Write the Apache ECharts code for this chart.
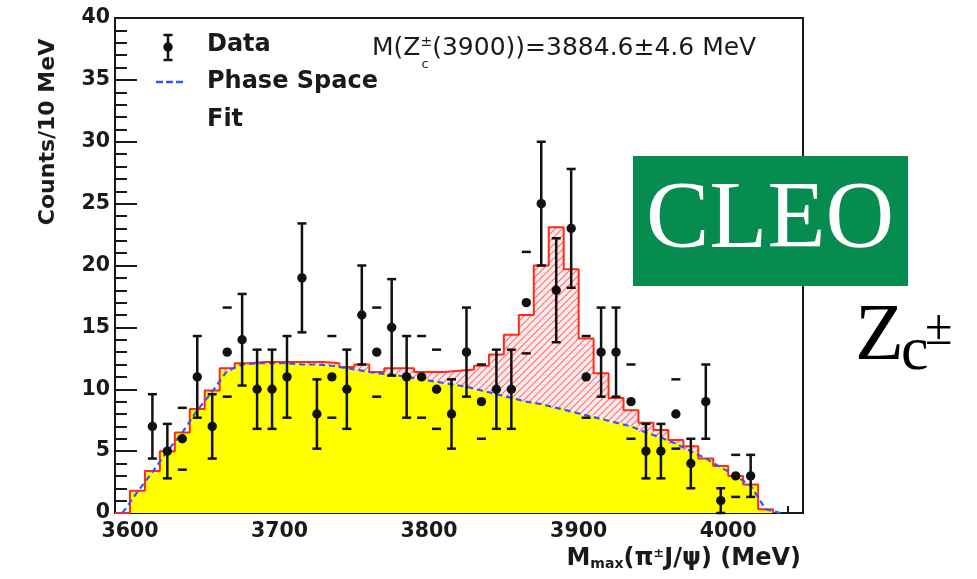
<!DOCTYPE html>
<html><head><meta charset="utf-8">
<script src="https://cdn.jsdelivr.net/npm/echarts@6/dist/echarts.min.js"></script>
<style>html,body{margin:0;padding:0;background:#fff}#c{width:977px;height:579px}</style>
</head><body><div id="c"></div>
<script>
// histogram bins: lower edges (10 MeV wide)
const binLow = [3590,3600,3610,3620,3630,3640,3650,3660,3670,3680,3690,3700,3710,3720,3730,3740,3750,3760,3770,3780,3790,3800,3810,3820,3830,3840,3850,3860,3870,3880,3890,3900,3910,3920,3930,3940,3950,3960,3970,3980,3990,4000,4010,4020,4030];
const phaseSpace = [0,1.7,3.3,5.0,6.5,8.3,9.8,11.5,12.0,12.1,12.1,12.1,12.0,12.0,11.9,11.7,11.5,11.3,11.2,11.0,10.8,10.6,10.4,10.2,9.9,9.6,9.3,9.0,8.8,8.5,8.2,7.9,7.6,7.3,7.0,6.5,6.1,5.6,5.0,4.4,3.7,3.0,2.2,0.3,0];
const fitTotal = [0,1.8,3.4,5.0,6.5,8.4,9.9,11.7,12.1,12.2,12.2,12.2,12.2,12.2,12.1,11.8,12.0,11.4,11.7,11.7,11.4,11.4,11.5,11.6,11.9,12.8,14.4,16.0,20.0,23.1,19.7,14.1,11.3,9.3,8.3,7.3,6.7,5.9,5.4,4.4,3.8,3.0,2.3,0.3,0];
// data points
const dataMass = [3615,3625,3635,3645,3655,3665,3675,3685,3695,3705,3715,3725,3735,3745,3755,3765,3775,3785,3795,3805,3815,3825,3835,3845,3855,3865,3875,3885,3895,3905,3915,3925,3935,3945,3955,3965,3975,3985,3995,4005,4015];
const dataCounts = [7,5,6,11,7,13,14,10,10,11,19,8,11,10,16,13,15,11,11,10,8,13,9,10,10,17,25,18,23,11,13,13,9,5,5,8,4,9,1,3,3];
const dataErr = [2.6,2.2,2.5,3.3,2.6,3.6,3.7,3.2,3.2,3.3,4.4,2.8,3.3,3.2,4.0,3.6,3.9,3.3,3.3,3.2,2.8,3.6,3.0,3.2,3.2,4.1,5.0,4.2,4.8,3.3,3.6,3.6,3.0,2.2,2.2,2.8,2.0,3.0,1.0,1.7,1.7];
const stemHidden = [0,0,1,0,0,1,0,0,0,0,0,0,1,0,0,1,0,0,1,1,0,0,1,0,0,1,0,0,0,1,0,0,1,0,0,1,0,0,0,1,0];
// axis ticks
const xTickLabels = [3600,3700,3800,3900,4000];
const xMinorTicks = [3600,3620,3640,3660,3680,3700,3720,3740,3760,3780,3800,3820,3840,3860,3880,3900,3920,3940,3960,3980,4000,4020,4040];
const yMin = 0, yMax = 40, yStep = 5;

const FONT = '"DejaVu Sans", sans-serif';
const SERIF = '"Liberation Serif", "DejaVu Serif", serif';

function hatchPattern(){
  const c = document.createElement('canvas');
  c.width = 7; c.height = 7;
  const g = c.getContext('2d');
  g.fillStyle = 'rgba(255,225,225,0.6)';
  g.fillRect(0,0,7,7);
  g.strokeStyle = 'rgba(255,60,60,0.7)';
  g.lineWidth = 1.2;
  g.beginPath();
  g.moveTo(-1,8); g.lineTo(8,-1);
  g.moveTo(-3,3); g.lineTo(3,-3);
  g.moveTo(4,10); g.lineTo(10,4);
  g.stroke();
  return c;
}
function measure(text, font){
  const g = document.createElement('canvas').getContext('2d');
  g.font = font; return g.measureText(text).width;
}

const histPts = (vals) => binLow.map((x,i)=>[x, vals[i]]);
const centerPts = (vals) => binLow.map((x,i)=>[x+5, vals[i]]);
const pts = dataMass.map((m,i)=>[m, dataCounts[i], dataErr[i], stemHidden[i]]);

const chart = echarts.init(document.getElementById('c'), null, {renderer:'canvas'});

const annX = 372, annY = 48;
const annFont = '25px ' + FONT;
const mzW = measure('M(Z', annFont);

const option = {
  backgroundColor: '#fff',
  animation: false,
  grid: {left:115, right:174, top:18, bottom:66, show:true, borderColor:'#1a1a1a', borderWidth:2, backgroundColor:'transparent'},
  xAxis: [{
    type:'value', min:3590, max:4050,
    axisLine:{show:true, lineStyle:{color:'#1a1a1a', width:2}},
    axisTick:{show:true, inside:true, length:15, customValues:xTickLabels, lineStyle:{color:'#1a1a1a', width:2}},
    axisLabel:{show:true, customValues:xTickLabels, formatter:(v)=>String(v), margin:8, color:'#1a1a1a', fontFamily:FONT, fontWeight:'bold', fontSize:20.5},
    splitLine:{show:false},
    name:'M{sub|max}(π{sup|±}J/ψ) (MeV)', nameLocation:'end', nameGap:-2,
    nameTextStyle:{align:'right', verticalAlign:'top', padding:[34,0,0,0], color:'#1a1a1a', fontFamily:FONT, fontWeight:'bold', fontSize:24,
      rich:{sub:{fontSize:14, fontFamily:FONT, fontWeight:'bold', verticalAlign:'bottom', lineHeight:2, color:'#1a1a1a'},
            sup:{fontSize:13, fontFamily:FONT, verticalAlign:'top', lineHeight:8, color:'#1a1a1a'}}}
  },{
    type:'value', min:3590, max:4050, position:'bottom',
    axisLine:{show:false},
    axisTick:{show:true, inside:true, length:7, customValues:xMinorTicks, lineStyle:{color:'#1a1a1a', width:2}},
    axisLabel:{show:false}, splitLine:{show:false}
  }],
  yAxis: {
    type:'value', min:yMin, max:yMax, interval:yStep,
    axisLine:{show:true, lineStyle:{color:'#1a1a1a', width:2}},
    axisTick:{show:true, inside:true, length:22, lineStyle:{color:'#1a1a1a', width:2}},
    minorTick:{show:true, splitNumber:5, length:12, lineStyle:{color:'#1a1a1a', width:2}},
    axisLabel:{margin:5, color:'#1a1a1a', fontFamily:FONT, fontWeight:'bold', fontSize:20.5},
    splitLine:{show:false}
  },
  series: [
    {name:'Fit (signal)', type:'line', step:'end', data:histPts(fitTotal), symbol:'none', z:1,
     lineStyle:{width:0}, areaStyle:{color:{image:hatchPattern(), repeat:'repeat'}, opacity:1}},
    {name:'Phase Space hist', type:'line', step:'end', data:histPts(phaseSpace), symbol:'none', z:2,
     lineStyle:{width:0}, areaStyle:{color:'#ffff00', opacity:1}},
    {name:'Fit', type:'line', step:'end', data:histPts(fitTotal), symbol:'none', z:3,
     lineStyle:{color:'#ff2a1a', width:2}},
    {name:'Phase Space', type:'line', data:centerPts(phaseSpace), symbol:'none', z:4,
     lineStyle:{color:'#3355ff', width:2.2, type:[6,4]}},
    {name:'Data', type:'custom', z:5, data:pts, encode:{x:0, y:1},
     renderItem:function(params, api){
       const x = api.value(0), y = api.value(1), e = api.value(2), hide = api.value(3);
       const c = api.coord([x,y]), t = api.coord([x,y+e]), b = api.coord([x,Math.max(0,y-e)]);
       const hw = 4.5, st = {stroke:'#111', lineWidth:2.5};
       const ch = [];
       if (!hide) ch.push({type:'line', shape:{x1:c[0],y1:t[1],x2:c[0],y2:b[1]}, style:st});
       ch.push({type:'line', shape:{x1:c[0]-hw,y1:t[1],x2:c[0]+hw,y2:t[1]}, style:st});
       ch.push({type:'line', shape:{x1:c[0]-hw,y1:b[1],x2:c[0]+hw,y2:b[1]}, style:st});
       ch.push({type:'circle', shape:{cx:c[0],cy:c[1],r:4.7}, style:{fill:'#111'}});
       return {type:'group', children:ch};
     }}
  ],
  graphic: [
    // y axis title
    {type:'text', x:48, y:132, rotation:Math.PI/2, z:100,
     style:{text:'Counts/10 MeV', fill:'#1a1a1a', font:'bold 22px ' + FONT, align:'center', verticalAlign:'middle'}},
    // legend
    {type:'line', z:100, shape:{x1:168,y1:35,x2:168,y2:60}, style:{stroke:'#111', lineWidth:2.5}},
    {type:'line', z:100, shape:{x1:163.5,y1:35,x2:172.5,y2:35}, style:{stroke:'#111', lineWidth:2.5}},
    {type:'line', z:100, shape:{x1:163.5,y1:60,x2:172.5,y2:60}, style:{stroke:'#111', lineWidth:2.5}},
    {type:'circle', z:100, shape:{cx:168, cy:47, r:4.7}, style:{fill:'#111'}},
    {type:'text', x:207, y:45, z:100, style:{text:'Data', fill:'#1a1a1a', font:'bold 24px ' + FONT, align:'left', verticalAlign:'middle'}},
    {type:'line', z:100, shape:{x1:156,y1:82,x2:184,y2:82}, style:{stroke:'#3355ff', lineWidth:2.5, lineDash:[7,3]}},
    {type:'text', x:207, y:82, z:100, style:{text:'Phase Space', fill:'#1a1a1a', font:'bold 24px ' + FONT, align:'left', verticalAlign:'middle'}},
    {type:'text', x:207, y:120, z:100, style:{text:'Fit', fill:'#1a1a1a', font:'bold 24px ' + FONT, align:'left', verticalAlign:'middle'}},
    // mass annotation
    {type:'text', x:annX, y:annY, z:100,
     style:{text:'M(Z{p|±}(3900))=3884.6±4.6 MeV', fill:'#1a1a1a', font:annFont, align:'left', verticalAlign:'middle',
       rich:{p:{fontSize:14, fontFamily:FONT, verticalAlign:'top', lineHeight:8, fill:'#1a1a1a'}}}},
    {type:'text', x:annX + mzW + 1, y:annY + 17, z:100,
     style:{text:'c', fill:'#1a1a1a', font:'13px ' + FONT, align:'left', verticalAlign:'middle'}},
    // CLEO box
    {type:'rect', z:110, shape:{x:633, y:156, width:275, height:130}, style:{fill:'#068c4f'}},
    {type:'text', x:770, y:222, z:111, style:{text:'CLEO', fill:'#ffffff', font:'95px ' + SERIF, align:'center', verticalAlign:'middle'}},
    // Zc±
    {type:'text', x:855, y:338, z:111, style:{text:'Z', fill:'#000', font:'80px ' + SERIF, align:'left', verticalAlign:'middle'}},
    {type:'text', x:901, y:353, z:111, style:{text:'c', fill:'#000', font:'62px ' + SERIF, align:'left', verticalAlign:'middle'}},
    {type:'text', x:925, y:331, z:111, style:{text:'±', fill:'#000', font:'50px ' + SERIF, align:'left', verticalAlign:'middle'}}
  ]
};
chart.setOption(option);
</script>
</body></html>
